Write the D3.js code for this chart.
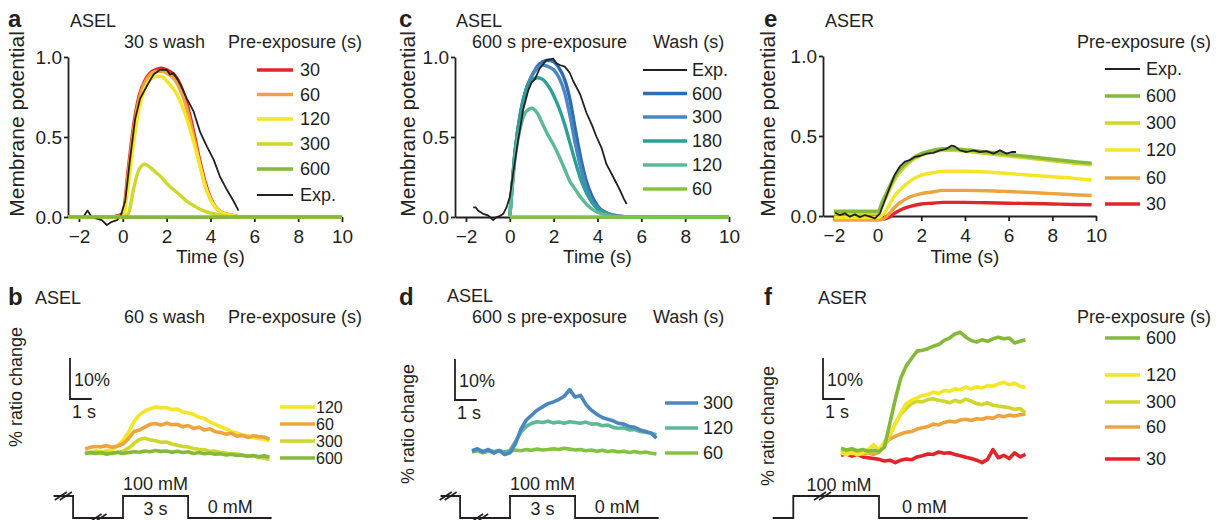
<!DOCTYPE html>
<html>
<head>
<meta charset="utf-8">
<script src="https://cdn.jsdelivr.net/npm/d3@7"></script>
<style>
  body { margin: 0; background: #fff; }
</style>
</head>
<body>
<div id="chart"></div>
<script>
// ---------- data ----------
const timeTicks = [-2, 0, 2, 4, 6, 8, 10];
const mpTicks = [0, 0.5, 1.0];

// panel a: ASEL, 30 s wash, model vs pre-exposure (s)
const tA = [-2.5, -0.5, 0, 0.25, 0.5, 0.75, 1, 1.25, 1.5, 1.75, 2, 2.5, 3, 3.25, 3.5, 3.75, 4, 4.5, 5, 5.5, 6, 10];
const a30  = [0, 0, 0.02, 0.3, 0.58, 0.76, 0.85, 0.9, 0.92, 0.93, 0.92, 0.86, 0.67, 0.52, 0.36, 0.22, 0.12, 0.03, 0.01, 0, 0, 0];
const a60  = [0, 0, 0.01, 0.27, 0.55, 0.74, 0.84, 0.89, 0.91, 0.91, 0.9, 0.83, 0.64, 0.49, 0.34, 0.2, 0.11, 0.03, 0.01, 0, 0, 0];
const a120 = [0, 0, 0, 0.2, 0.47, 0.68, 0.8, 0.86, 0.88, 0.88, 0.85, 0.76, 0.58, 0.46, 0.33, 0.2, 0.11, 0.03, 0.01, 0, 0, 0];
const a300 = [0, 0, 0, 0.02, 0.18, 0.3, 0.33, 0.31, 0.28, 0.25, 0.21, 0.15, 0.09, 0.07, 0.05, 0.035, 0.025, 0.01, 0, 0, 0, 0];
const a600 = [0, 0, 0, 0, 0, 0, 0, 0, 0, 0, 0, 0, 0, 0, 0, 0, 0, 0, 0, 0, 0, 0];
const aExpT = [-2.48, -1.8, -1.61, -1.42, -1.19, -0.96, -0.73, -0.5, -0.27, -0.09, 0.11, 0.33, 0.56, 0.79, 1.1, 1.4, 1.7, 2.0, 2.15, 2.31, 2.5, 2.69, 2.92, 3.23, 3.53, 3.84, 4.14, 4.44, 4.75, 5.05, 5.28];
const aExpV = [0, 0, 0.04, 0, -0.01, -0.02, -0.05, -0.03, -0.02, 0.01, 0.1, 0.36, 0.61, 0.74, 0.82, 0.89, 0.92, 0.92, 0.89, 0.9, 0.86, 0.81, 0.74, 0.66, 0.53, 0.44, 0.36, 0.25, 0.17, 0.1, 0.04];

// panel c: ASEL, 600 s pre-exposure, model vs wash (s)
const tC = [0, 0.25, 0.5, 0.75, 1, 1.25, 1.5, 1.75, 2, 2.25, 2.5, 2.75, 3, 3.25, 3.5, 3.75, 4, 4.5, 5, 5.5, 6, 10];
const c600 = [0, 0.42, 0.66, 0.8, 0.88, 0.94, 0.97, 0.98, 0.97, 0.93, 0.86, 0.73, 0.54, 0.36, 0.22, 0.13, 0.07, 0.02, 0.005, 0, 0, 0];
const c300 = [0, 0.42, 0.66, 0.8, 0.88, 0.93, 0.95, 0.94, 0.92, 0.87, 0.78, 0.63, 0.45, 0.3, 0.18, 0.1, 0.06, 0.02, 0.005, 0, 0, 0];
const c180 = [0, 0.42, 0.65, 0.79, 0.85, 0.87, 0.86, 0.82, 0.76, 0.68, 0.58, 0.46, 0.34, 0.23, 0.15, 0.09, 0.05, 0.015, 0, 0, 0, 0];
const c120 = [0, 0.38, 0.57, 0.66, 0.68, 0.65, 0.58, 0.51, 0.45, 0.38, 0.3, 0.22, 0.17, 0.12, 0.08, 0.05, 0.03, 0.01, 0, 0, 0, 0];
const c60  = [0, 0, 0, 0, 0, 0, 0, 0, 0, 0, 0, 0, 0, 0, 0, 0, 0, 0, 0, 0, 0, 0];
const cExpT = [-1.67, -1.55, -1.45, -1.22, -0.99, -0.76, -0.61, -0.46, -0.3, -0.15, 0, 0.15, 0.38, 0.61, 0.84, 0.99, 1.14, 1.37, 1.67, 1.83, 1.98, 2.13, 2.28, 2.51, 2.74, 2.89, 3.2, 3.5, 3.73, 3.96, 4.19, 4.41, 4.72, 5.02, 5.2, 5.33];
const cExpV = [0.06, 0.06, 0.04, 0.02, 0.01, -0.02, 0, 0.005, 0.02, 0.06, 0.125, 0.27, 0.48, 0.67, 0.79, 0.84, 0.86, 0.93, 0.98, 0.985, 0.99, 0.96, 0.95, 0.94, 0.9, 0.85, 0.77, 0.65, 0.58, 0.5, 0.43, 0.33, 0.25, 0.17, 0.115, 0.08];

// panel e: ASER, model vs pre-exposure (s)
const tE = [-2, 0, 0.25, 0.5, 0.75, 1, 1.5, 2, 2.5, 3, 3.5, 4, 5, 6, 7, 8, 9, 9.8];
const e600 = [0.03, 0.03, 0.1, 0.17, 0.24, 0.29, 0.35, 0.39, 0.41, 0.42, 0.42, 0.415, 0.4, 0.385, 0.37, 0.355, 0.34, 0.33];
const e300 = [0.015, 0.015, 0.08, 0.15, 0.22, 0.27, 0.34, 0.38, 0.4, 0.41, 0.41, 0.405, 0.39, 0.375, 0.36, 0.345, 0.33, 0.32];
const e120 = [-0.01, -0.01, 0.01, 0.06, 0.12, 0.16, 0.22, 0.255, 0.27, 0.28, 0.28, 0.28, 0.275, 0.265, 0.255, 0.245, 0.235, 0.225];
const e60  = [-0.025, -0.025, -0.02, 0.01, 0.05, 0.08, 0.12, 0.14, 0.15, 0.16, 0.16, 0.16, 0.158, 0.153, 0.147, 0.14, 0.133, 0.128];
const e30  = [-0.02, -0.02, -0.02, -0.01, 0.015, 0.035, 0.06, 0.075, 0.08, 0.085, 0.085, 0.085, 0.083, 0.08, 0.078, 0.075, 0.072, 0.07];
const eExpT = [-1.95, -1.73, -1.5, -1.27, -1.04, -0.81, -0.58, -0.35, -0.12, 0.11, 0.34, 0.56, 0.79, 1.02, 1.25, 1.48, 1.71, 1.94, 2.24, 2.55, 2.85, 3.16, 3.39, 3.54, 3.77, 4.08, 4.38, 4.69, 4.99, 5.3, 5.6, 5.91, 6.14, 6.34];
const eExpV = [0.02, 0.006, 0.017, -0.004, 0.01, -0.008, 0.006, -0.004, -0.015, 0.017, 0.1, 0.18, 0.26, 0.31, 0.34, 0.35, 0.37, 0.375, 0.39, 0.395, 0.41, 0.42, 0.44, 0.435, 0.41, 0.4, 0.41, 0.4, 0.405, 0.39, 0.41, 0.39, 0.4, 0.4];

// panels b, d, f: % ratio change, sampled every 0.25 s (t = 0 at the odor step)
const tRatio = [-1.75, -1.5, -1.25, -1, -0.75, -0.5, -0.25, 0, 0.25, 0.5, 0.75, 1, 1.25, 1.5, 1.75, 2, 2.25, 2.5, 2.75, 3, 3.25, 3.5, 3.75, 4, 4.25, 4.5, 4.75, 5, 5.25, 5.5, 5.75, 6, 6.25, 6.5, 6.75];
const b120 = [0.3, 0.0, 0.5, 0.2, 0.6, 0.8, 1.8, 3.0, 5.0, 7.6, 9.3, 10.2, 10.8, 11.2, 11.0, 11.1, 10.6, 10.7, 10.0, 9.8, 9.4, 8.7, 8.4, 7.6, 7.0, 6.4, 5.9, 5.2, 4.9, 4.4, 4.2, 3.8, 3.5, 3.4, 3.0];
const b60  = [1.0, 1.4, 1.6, 1.5, 1.8, 1.4, 1.7, 2.2, 3.5, 5.2, 5.6, 6.3, 7.0, 7.2, 6.8, 7.3, 6.9, 7.0, 6.4, 6.7, 6.0, 6.3, 5.6, 5.9, 5.2, 5.0, 4.6, 4.8, 4.1, 4.3, 3.8, 4.2, 4.0, 3.9, 3.4];
const b300 = [0.2, -0.1, 0.3, 0.0, 0.2, -0.2, 0.1, 0.4, 1.2, 2.3, 3.3, 3.6, 3.2, 3.0, 2.6, 2.7, 2.2, 1.9, 1.6, 1.5, 1.1, 0.9, 0.8, 0.4, 0.5, 0.1, 0.0, -0.3, -0.2, -0.6, -0.8, -0.7, -1.1, -1.3, -1.6];
const b600 = [-0.2, 0.2, -0.1, 0.1, -0.3, 0.0, 0.2, -0.1, 0.1, 0.3, 0.2, 0.5, 0.3, 0.6, 0.4, 0.5, 0.2, 0.4, 0.1, 0.3, -0.1, 0.1, -0.2, 0.0, -0.3, -0.2, -0.5, -0.3, -0.6, -0.5, -0.8, -0.6, -0.9, -0.7, -1.0];

const d300 = [0.3, 0.8, 0.1, 0.6, -0.3, 0.4, -0.6, -0.2, 2.0, 5.5, 7.8, 9.0, 10.2, 11.0, 11.8, 12.2, 12.8, 13.6, 15.2, 13.4, 13.8, 11.6, 10.2, 9.2, 8.4, 8.0, 7.6, 7.0, 6.8, 6.2, 6.0, 5.4, 5.0, 4.6, 3.4];
const d120 = [0.2, 0.5, 0.0, 0.4, 0.1, 0.3, 0.0, 0.4, 2.5, 4.8, 6.2, 7.0, 7.4, 7.2, 7.5, 7.1, 7.3, 7.0, 7.4, 7.2, 7.0, 7.3, 6.8, 6.9, 6.4, 6.6, 6.0, 5.8, 5.9, 5.4, 5.5, 5.0, 4.8, 4.6, 4.2];
const d60  = [0.0, 0.3, -0.2, 0.2, 0.0, 0.3, -0.1, 0.2, 0.5, 0.3, 0.6, 0.4, 0.7, 0.5, 0.6, 0.8, 0.6, 0.9, 0.7, 0.5, 0.6, 0.3, 0.5, 0.2, 0.4, 0.1, 0.3, 0.0, 0.2, -0.1, 0.1, -0.2, 0.0, -0.3, -0.5];

const f600 = [0.9, 0.5, 0.8, 0.3, 0.6, 0.2, 0.4, 0.1, 1.2, 7.0, 12.8, 18.0, 21.0, 22.8, 24.6, 24.8, 25.2, 25.8, 26.2, 27.2, 27.8, 28.8, 29.2, 28.0, 27.2, 26.8, 27.4, 27.0, 27.6, 28.0, 27.6, 27.8, 26.6, 27.0, 27.4];
const f120 = [-0.3, -0.6, -0.2, -0.7, -0.3, 0.6, 1.8, 0.4, 2.5, 4.5, 6.8, 9.5, 11.8, 12.6, 13.2, 13.8, 14.0, 14.6, 14.3, 15.0, 14.8, 15.4, 15.2, 15.8, 15.4, 15.9, 15.6, 16.2, 16.0, 16.6, 17.0, 16.4, 16.8, 16.0, 15.8];
const f300 = [0.4, 0.0, 0.5, 0.1, 0.4, -0.1, 0.3, 0.0, 1.5, 4.0, 7.0, 9.2, 10.6, 11.8, 12.4, 12.2, 12.8, 13.0, 12.6, 12.4, 12.0, 12.6, 12.2, 12.9, 12.4, 11.8, 11.6, 12.0, 11.4, 11.2, 11.0, 10.8, 10.4, 10.6, 9.6];
const f60  = [-0.2, 0.2, -0.4, 0.0, -0.5, -0.2, -0.6, 0.0, 2.0, 3.2, 3.8, 4.4, 4.8, 5.0, 5.6, 5.9, 6.2, 6.8, 6.6, 7.2, 7.5, 7.3, 7.8, 8.0, 7.7, 8.1, 8.0, 8.4, 8.2, 8.9, 8.6, 9.0, 8.8, 9.1, 9.3];
const f30  = [-0.8, -0.5, -1.0, -0.6, -1.2, -1.4, -1.6, -1.8, -2.2, -2.0, -2.6, -2.0, -1.7, -1.9, -1.2, -0.9, -0.5, -0.6, 0.0, -0.3, -0.2, -0.6, -0.9, -1.3, -1.6, -2.0, -2.6, -1.8, 0.6, -1.4, -0.8, -1.6, -0.2, -1.2, -0.6];

// NaCl stimulus timing (s) and level (1 = 100 mM, 0 = 0 mM)
const stimT_bd = [-3.2, -2.3, -2.3, 0, 0, 3, 3, 6.85];
const stimL_bd = [1, 1, 0, 0, 1, 1, 0, 0];
const stimT_f = [-4.9, -3.95, -3.95, 0, 0, 6.85];
const stimL_f = [0, 0, 1, 1, 0, 0];

// ---------- colours ----------
const RED = '#e0262b', ORANGE = '#eea43e', YELLOW = '#f4e526', LIME = '#d0d72c', GREEN = '#84b93c';
const BLUE1 = '#2e6db4', BLUE2 = '#4a87c1', TEAL = '#2e9e98', TEAL2 = '#5db896', GREEN2 = '#84c341';
const INK = '#231f20';
const FONT = '"Liberation Sans", Arial, Helvetica, sans-serif';

const svg = d3.select('#chart').append('svg')
    .attr('width', 1227).attr('height', 520)
    .style('font-family', FONT);

function text(g, x, y, s, size, anchor, bold) {
    return g.append('text')
        .attr('x', x).attr('y', y)
        .attr('font-size', size)
        .attr('fill', INK)
        .attr('text-anchor', anchor || 'start')
        .attr('font-weight', bold ? 'bold' : null)
        .text(s);
}

function vLabel(g, x, y, s, size) {
    g.append('text')
        .attr('transform', `translate(${x},${y}) rotate(-90)`)
        .attr('text-anchor', 'middle')
        .attr('font-size', size)
        .attr('fill', INK)
        .text(s);
}

function axisStyle(g) {
    g.attr('font-size', 19).attr('font-family', FONT);
    g.selectAll('path, line').attr('stroke', INK).attr('stroke-width', 1.8);
    g.selectAll('text').attr('fill', INK);
}

function legend(g, items, rows, lx0, lx1, tx, size) {
    items.forEach((it, i) => {
        g.append('line')
            .attr('x1', lx0).attr('x2', lx1)
            .attr('y1', rows[i]).attr('y2', rows[i])
            .attr('stroke', it.color)
            .attr('stroke-width', it.exp ? 2 : 3.4);
        text(g, tx, rows[i], it.name, size || 18).attr('dy', '0.36em');
    });
}

// ---------- top row: model membrane potential ----------
function topPanel(p) {
    const g = svg.append('g');
    const x = d3.scaleLinear().domain([-2.5, 10]).range([p.left, p.right]);
    const y = d3.scaleLinear().domain([0, 1]).range([p.bottom, p.top]);

    g.append('g')
        .attr('transform', `translate(0,${p.bottom})`)
        .call(d3.axisBottom(x).tickValues(timeTicks).tickSize(5).tickSizeOuter(0).tickPadding(8))
        .call(axisStyle);
    g.append('g')
        .attr('transform', `translate(${p.left},0)`)
        .call(d3.axisLeft(y).tickValues(mpTicks).tickFormat(d3.format('.1f')).tickSize(4).tickSizeOuter(0).tickPadding(2))
        .call(axisStyle);

    p.series.forEach(s => {
        const line = d3.line()
            .x(d => x(d[0])).y(d => y(d[1]))
            .curve(s.exp ? d3.curveLinear : d3.curveMonotoneX);
        g.append('path')
            .datum(d3.zip(s.t, s.v))
            .attr('fill', 'none')
            .attr('stroke', s.color)
            .attr('stroke-width', s.exp ? 1.8 : 3.4)
            .attr('stroke-linejoin', 'round')
            .attr('d', line);
    });

    vLabel(g, p.yLabelX, 124, 'Membrane potential', 21);
    text(g, x(4), 263, 'Time (s)', 19, 'middle');

    text(g, p.letterX, 27, p.letter, 24, 'start', true);
    text(g, p.cellX, 27, p.cell, 18);
    if (p.sub) text(g, p.subX, 48, p.sub, 18);
    text(g, p.legTitleX, 48, p.legTitle, 18);
    legend(g, p.legend, p.rows, p.lx0, p.lx1, p.tx);
}

topPanel({
    left: 68, right: 342, top: 57, bottom: 217, yLabelX: 24,
    letter: 'a', letterX: 8, cell: 'ASEL', cellX: 70,
    sub: '30 s wash', subX: 124, legTitle: 'Pre-exposure (s)', legTitleX: 228,
    series: [
        {t: tA, v: a30, color: RED},
        {t: tA, v: a60, color: ORANGE},
        {t: tA, v: a120, color: YELLOW},
        {t: tA, v: a300, color: LIME},
        {t: aExpT, v: aExpV, color: INK, exp: true},
        {t: tA, v: a600, color: GREEN}
    ],
    legend: [
        {name: '30', color: RED}, {name: '60', color: ORANGE}, {name: '120', color: YELLOW},
        {name: '300', color: LIME}, {name: '600', color: GREEN}, {name: 'Exp.', color: INK, exp: true}
    ],
    rows: [70, 94.5, 119, 144, 169, 195], lx0: 257, lx1: 293, tx: 300
});

topPanel({
    left: 455, right: 729, top: 57, bottom: 217, yLabelX: 415,
    letter: 'c', letterX: 399, cell: 'ASEL', cellX: 456,
    sub: '600 s pre-exposure', subX: 472, legTitle: 'Wash (s)', legTitleX: 653,
    series: [
        {t: tC, v: c600, color: BLUE1},
        {t: tC, v: c300, color: BLUE2},
        {t: tC, v: c180, color: TEAL},
        {t: tC, v: c120, color: TEAL2},
        {t: tC, v: c60, color: GREEN2},
        {t: cExpT, v: cExpV, color: INK, exp: true}
    ],
    legend: [
        {name: 'Exp.', color: INK, exp: true}, {name: '600', color: BLUE1}, {name: '300', color: BLUE2},
        {name: '180', color: TEAL}, {name: '120', color: TEAL2}, {name: '60', color: GREEN2}
    ],
    rows: [70, 93.5, 117, 141, 165, 189], lx0: 643, lx1: 687, tx: 692
});

topPanel({
    left: 823, right: 1096, top: 56, bottom: 216, yLabelX: 775,
    letter: 'e', letterX: 764, cell: 'ASER', cellX: 825,
    legTitle: 'Pre-exposure (s)', legTitleX: 1077,
    series: [
        {t: tE, v: e30, color: RED},
        {t: tE, v: e60, color: ORANGE},
        {t: tE, v: e120, color: YELLOW},
        {t: tE, v: e300, color: LIME},
        {t: tE, v: e600, color: GREEN},
        {t: eExpT, v: eExpV, color: INK, exp: true}
    ],
    legend: [
        {name: 'Exp.', color: INK, exp: true}, {name: '600', color: GREEN}, {name: '300', color: LIME},
        {name: '120', color: YELLOW}, {name: '60', color: ORANGE}, {name: '30', color: RED}
    ],
    rows: [69, 96, 123, 150, 178, 204], lx0: 1105, lx1: 1140, tx: 1146
});

// ---------- bottom row: calcium imaging traces ----------
const HI = 496, LO = 518;

function breakMark(g, cx, cy) {
    [-2.5, 2.5].forEach(dx => {
        g.append('line')
            .attr('x1', cx + dx - 6).attr('y1', cy + 4)
            .attr('x2', cx + dx + 6).attr('y2', cy - 4)
            .attr('stroke', INK).attr('stroke-width', 1.6);
    });
}

function bottomPanel(p) {
    const g = svg.append('g');
    const x = d3.scaleLinear().domain([0, 1]).range([p.x0, p.x0 + 21.7]);
    const y = d3.scaleLinear().domain([0, 10]).range([p.base, p.base - 41]);

    const line = d3.line().x(d => x(d[0])).y(d => y(d[1]));
    p.series.forEach(s => {
        g.append('path')
            .datum(d3.zip(tRatio, s.v))
            .attr('fill', 'none')
            .attr('stroke', s.color)
            .attr('stroke-width', 3.6)
            .attr('stroke-linejoin', 'round')
            .attr('d', line);
    });

    // 10 % / 1 s scale bar
    const sbY = p.sbY;
    g.append('path')
        .attr('d', `M${p.sbX},${sbY - (y(0) - y(10))}V${sbY}H${p.sbX + x(1) - x(0)}`)
        .attr('fill', 'none').attr('stroke', INK).attr('stroke-width', 1.8);
    text(g, p.sbX + 4, sbY - 13, '10%', 18);
    text(g, p.sbX + 2, sbY + 19, '1 s', 18);

    // stimulus trace
    const sy = l => l ? HI : LO;
    g.append('path')
        .datum(d3.zip(p.stimT, p.stimL))
        .attr('fill', 'none').attr('stroke', INK).attr('stroke-width', 1.8)
        .attr('d', d3.line().x(d => x(d[0])).y(d => sy(d[1])));
    p.breaks.forEach(b => breakMark(g, x(b[0]), sy(b[1])));
    p.stimText.forEach(s => text(g, x(s.t), s.y, s.s, 18, s.anchor));

    vLabel(g, p.yLabelX, p.yLabelY, '% ratio change', 18);
    text(g, p.letterX, 305, p.letter, 24, 'start', true);
    text(g, p.cellX, p.cellY, p.cell, 18);
    if (p.sub) text(g, p.subX, 323, p.sub, 18);
    text(g, p.legTitleX, 323, p.legTitle, 18);
    legend(g, p.legend, p.rows, p.lx0, p.lx1, p.tx, p.legSize);
}

bottomPanel({
    x0: 123, base: 453, sbX: 70, sbY: 399,
    letter: 'b', letterX: 8, cell: 'ASEL', cellX: 35, cellY: 304,
    sub: '60 s wash', subX: 124, legTitle: 'Pre-exposure (s)', legTitleX: 228,
    yLabelX: 22, yLabelY: 387,
    series: [
        {v: b120, color: YELLOW}, {v: b60, color: ORANGE},
        {v: b300, color: LIME}, {v: b600, color: GREEN}
    ],
    legend: [
        {name: '120', color: YELLOW}, {name: '60', color: ORANGE},
        {name: '300', color: LIME}, {name: '600', color: GREEN}
    ],
    rows: [407, 424, 441, 458], lx0: 280, lx1: 315, tx: 316, legSize: 16,
    stimT: stimT_bd, stimL: stimL_bd, breaks: [[-2.75, 1], [-1.15, 0]],
    stimText: [
        {t: 1.5, y: 490, s: '100 mM', anchor: 'middle'},
        {t: 1.5, y: 515, s: '3 s', anchor: 'middle'},
        {t: 3.9, y: 513, s: '0 mM'}
    ]
});

bottomPanel({
    x0: 510, base: 452, sbX: 455, sbY: 400,
    letter: 'd', letterX: 399, cell: 'ASEL', cellX: 447, cellY: 302,
    sub: '600 s pre-exposure', subX: 472, legTitle: 'Wash (s)', legTitleX: 653,
    yLabelX: 414, yLabelY: 424,
    series: [
        {v: d60, color: GREEN2}, {v: d120, color: TEAL2}, {v: d300, color: BLUE2}
    ],
    legend: [
        {name: '300', color: BLUE2}, {name: '120', color: TEAL2}, {name: '60', color: GREEN2}
    ],
    rows: [403, 428, 453], lx0: 665, lx1: 698, tx: 703,
    stimT: stimT_bd, stimL: stimL_bd, breaks: [[-2.85, 1], [-1.4, 0]],
    stimText: [
        {t: 1.5, y: 490, s: '100 mM', anchor: 'middle'},
        {t: 1.5, y: 515, s: '3 s', anchor: 'middle'},
        {t: 3.9, y: 513, s: '0 mM'}
    ]
});

bottomPanel({
    x0: 879, base: 452, sbX: 823, sbY: 399,
    letter: 'f', letterX: 764, cell: 'ASER', cellX: 818, cellY: 304,
    legTitle: 'Pre-exposure (s)', legTitleX: 1077,
    yLabelX: 774, yLabelY: 426,
    series: [
        {v: f30, color: RED}, {v: f60, color: ORANGE}, {v: f300, color: LIME},
        {v: f120, color: YELLOW}, {v: f600, color: GREEN}
    ],
    legend: [
        {name: '600', color: GREEN}, {name: '120', color: YELLOW}, {name: '300', color: LIME},
        {name: '60', color: ORANGE}, {name: '30', color: RED}
    ],
    rows: [338, 375, 402, 427, 459], lx0: 1105, lx1: 1140, tx: 1146,
    stimT: stimT_f, stimL: stimL_f, breaks: [[-2.6, 1]],
    stimText: [
        {t: -1.84, y: 491, s: '100 mM', anchor: 'middle'},
        {t: 1.06, y: 513, s: '0 mM'}
    ]
});
</script>
</body>
</html>
